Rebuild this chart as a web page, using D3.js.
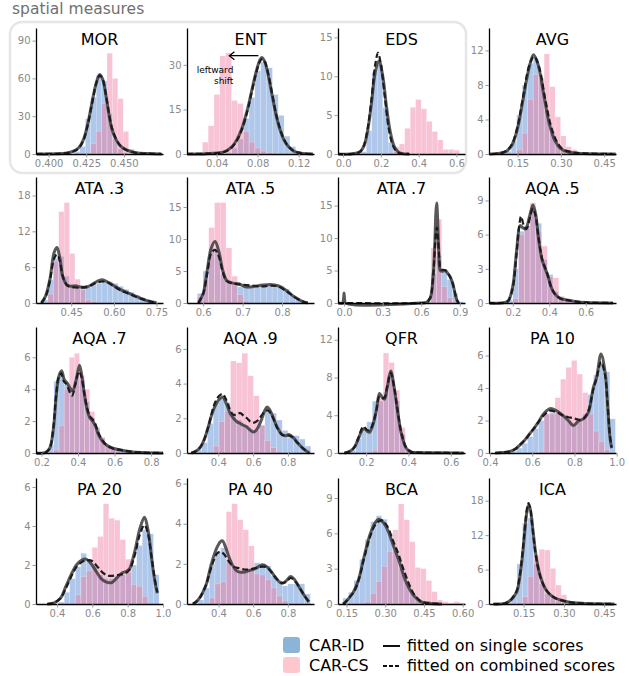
<!DOCTYPE html>
<html>
<head>
<meta charset="utf-8">
<script src="https://cdn.jsdelivr.net/npm/d3@7"></script>
<style>
  body { margin: 0; background: #fff; font-family: "DejaVu Sans", sans-serif; }
</style>
</head>
<body>
<svg width="629" height="676"></svg>
<script>
// ---- data ----
const titles = ["MOR", "ENT", "EDS", "AVG", "ATA .3", "ATA .5", "ATA .7", "AQA .5",
                "AQA .7", "AQA .9", "QFR", "PA 10", "PA 20", "PA 40", "BCA", "ICA"];

const xDomains = [[0.3916, 0.476], [0.011, 0.135], [-0.027, 0.645], [0.051, 0.491],
                  [0.326, 0.773], [0.559, 0.881], [-0.047, 0.94], [0.069, 0.766],
                  [0.17, 0.865], [0.22, 0.95], [0.067, 0.667], [0.395, 0.997],
                  [0.281, 1.0], [0.218, 0.951], [0.117, 0.609], [0.021, 0.494]];

const xTickLabels = [["0.400", "0.425", "0.450"], ["0.04", "0.08", "0.12"], ["0.0", "0.2", "0.4", "0.6"], ["0.15", "0.30", "0.45"],
                     ["0.45", "0.60", "0.75"], ["0.6", "0.7", "0.8"], ["0.0", "0.3", "0.6", "0.9"], ["0.2", "0.4", "0.6"],
                     ["0.2", "0.4", "0.6", "0.8"], ["0.4", "0.6", "0.8"], ["0.2", "0.4", "0.6"], ["0.4", "0.6", "0.8", "1.0"],
                     ["0.4", "0.6", "0.8", "1.0"], ["0.4", "0.6", "0.8"], ["0.15", "0.30", "0.45", "0.60"], ["0.15", "0.30", "0.45"]];

const yMax = [100, 42.4, 16.2, 14.6, 21.1, 19.7, 19.4, 11.06, 7.9, 7.26, 13.35, 7.76, 6.46, 6.28, 10.7, 21.96];

const yTicks = [[0, 30, 60, 90], [0, 15, 30], [0, 5, 10, 15], [0, 4, 8, 12],
                [0, 6, 12, 18], [0, 5, 10, 15], [0, 5, 10, 15], [0, 3, 6, 9],
                [0, 2, 4, 6], [0, 2, 4, 6], [0, 4, 8, 12], [0, 2, 4, 6],
                [0, 2, 4, 6], [0, 2, 4, 6], [0, 3, 6, 9], [0, 6, 12, 18]];

// CAR-ID histograms (blue): first bin edge, bin width, densities
const blueStart = [0.4172, 0.0488, 0.094, 0.109, 0.349, 0.585, 0.633, 0.1685, 0.24, 0.272, 0.125, 0.5, 0.409, 0.282, 0.136, 0.084];
const blueWidth = [0.0036, 0.0057, 0.029, 0.019, 0.019, 0.0146, 0.042, 0.0315, 0.028, 0.033, 0.026, 0.026, 0.0316, 0.0324, 0.0215, 0.0206];
const blueCounts = [
  [2, 6, 28, 45, 62, 58, 32, 12, 4, 1],
  [0.5, 2, 5, 12, 19, 28, 31, 29, 20, 13, 6, 2.5, 1],
  [0.3, 3, 10.5, 11.5, 6, 1.5, 0.3],
  [0.3, 1.5, 4.5, 8, 10.5, 11, 8.5, 5, 2.5, 1, 0.4, 0.2],
  [0.5, 3.9, 7.5, 7.8, 4.5, 3, 2.6, 2.7, 2.6, 3, 3.3, 3.5, 3.6, 3.3, 2.8, 2.3, 1.8, 1.3, 0.9, 0.5, 0.2],
  [1.5, 5, 8.5, 8.3, 4.5, 3.3, 2.8, 2.5, 2.6, 2.7, 2.6, 2.8, 2.7, 2.8, 2.7, 2.2, 1.2, 0.5, 0.2],
  [0.2, 4.5, 7.2, 4.8, 3.6, 1.5, 0.2],
  [0.3, 3.0, 6.3, 6.8, 8.0, 7.0, 3.8, 2.5, 1.0, 0.5, 0.3, 0.15, 0.1],
  [0.5, 4.5, 4.9, 4.3, 4.0, 4.8, 4.6, 3.2, 2.2, 1.6, 0.9, 0.5, 0.3, 0.2, 0.1, 0.05],
  [0.2, 0.6, 1.7, 2.9, 3.2, 2.9, 2.2, 1.9, 1.6, 1.4, 1.3, 1.6, 2.4, 2.3, 1.9, 1.3, 0.9, 1.0, 0.8, 0.4],
  [0.3, 1.5, 2.5, 3.3, 5.5, 5.5, 6.5, 8, 5.5, 2, 0.4, 0.1],
  [0.1, 0.3, 0.6, 1.0, 1.5, 2.0, 2.4, 2.5, 2.5, 2.3, 2.0, 1.8, 1.9, 2.4, 3.6, 4.8, 5.6, 5.0, 2.1],
  [0.1, 0.6, 1.3, 1.9, 2.6, 2.3, 2.0, 1.5, 1.3, 1.3, 1.4, 1.5, 1.6, 2.0, 3.0, 3.8, 3.6, 1.5],
  [0.2, 0.8, 2.0, 2.6, 2.8, 2.2, 1.8, 1.6, 1.6, 1.7, 2.05, 2.0, 1.9, 1.4, 1.1, 0.9, 1.0, 1.0, 1.0, 0.5],
  [0.5, 1.0, 2.0, 3.8, 5.5, 7.0, 7.5, 7.2, 6.0, 4.5, 3.0, 1.8, 0.9, 0.4, 0.2],
  [0.3, 1.5, 7, 14.1, 15, 7, 3.5, 1.8, 1.0, 0.5, 0.3]
];

// CAR-CS histograms (pink)
const pinkStart = [0.428, 0.026, 0.268, 0.147, 0.368, 0.585, 0.633, 0.2, 0.268, 0.371, 0.229, 0.63, 0.5038, 0.3468, 0.222, 0.1252];
const pinkWidth = [0.0036, 0.0057, 0.029, 0.019, 0.019, 0.0146, 0.042, 0.0315, 0.028, 0.033, 0.026, 0.026, 0.0316, 0.0324, 0.0215, 0.0206];
const pinkCounts = [
  [8, 18, 40, 80, 60, 44, 18, 4],
  [4, 9.5, 20, 33, 34, 18, 17, 7.5, 4, 2, 1, 0.5],
  [0.9, 1.3, 3.3, 6.0, 7.0, 5.8, 4.2, 2.9, 1.8, 0.6, 0.6, 0.5],
  [0.5, 2.4, 6.3, 9.2, 8.8, 11.6, 7.8, 4.3, 2.1, 0.85, 0.5],
  [1.5, 7.0, 15.3, 16.8, 8.3, 4.0, 2.2, 0.5, 0.3],
  [1.0, 3.7, 11.8, 15.7, 15.7, 8.6, 4.2, 1.3, 0.3],
  [0.3, 8.5, 12.9, 2.5, 0.8, 0.3],
  [0.4, 6.0, 6.6, 8.8, 6.3, 5.0, 2.3, 2.2, 0.6, 0.4, 0.1],
  [0.2, 1.7, 4.0, 6.0, 6.25, 4.85, 4.0, 2.6, 1.5, 1.0, 0.5, 0.3, 0.15],
  [0.4, 1.8, 2.4, 5.3, 5.2, 5.75, 4.45, 3.3, 1.6, 0.7, 0.3, 0.1],
  [0.3, 6.0, 10.6, 9.6, 6.66, 2.7, 0.4, 0.2, 0.1],
  [0.1, 2.4, 2.4, 3.4, 4.55, 5.27, 5.7, 4.86, 3.72, 2.4, 1.35, 0.7, 0.2],
  [0.46, 1.4, 1.7, 2.9, 3.46, 5.14, 4.4, 4.3, 3.3, 2.3, 1.0, 0.9, 0.4],
  [0.3, 1.0, 1.1, 4.6, 5.0, 4.2, 3.7, 2.9, 1.5, 1.45, 1.2, 0.8, 0.4, 0.15],
  [0.2, 0.9, 1.9, 3.2, 4.45, 6.3, 8.5, 7.15, 5.3, 3.1, 3.0, 2.0, 1.05, 0.34, 0.2, 0.1, 0.2, 0.1],
  [0.3, 1.3, 4.8, 8.5, 9.55, 9.4, 6.2, 3.3, 1.6, 0.4, 0.2]
];

// fitted densities, read as [x, density] points
const fitSingle = [
  [[0.392,0],[0.405,0.2],[0.412,0.8],[0.416,2],[0.42,5],[0.423,11],[0.426,24],[0.429,42],[0.432,58],[0.434,63],[0.436,59],[0.438,47],[0.44,32],[0.442,20],[0.445,11],[0.448,6],[0.452,3],[0.458,1],[0.466,0.3],[0.475,0]],
  [[0.011,0],[0.03,0.1],[0.045,0.5],[0.05,1.2],[0.055,2.5],[0.06,5],[0.065,9],[0.07,15],[0.074,21],[0.078,27],[0.082,31.5],[0.084,32.5],[0.087,31],[0.09,27],[0.094,20],[0.098,13],[0.102,8],[0.106,4.5],[0.11,2.5],[0.115,1],[0.122,0.3],[0.134,0]],
  [[-0.027,0],[0.05,0.02],[0.09,0.3],[0.11,1],[0.13,3],[0.15,6.5],[0.17,10.5],[0.19,12],[0.21,10],[0.23,6],[0.25,2.8],[0.27,1],[0.29,0.3],[0.31,0.05],[0.35,0]],
  [[0.051,0],[0.09,0.1],[0.11,0.3],[0.13,1],[0.15,3],[0.17,6.5],[0.19,10],[0.205,11.5],[0.22,10.5],[0.24,7],[0.26,3.5],[0.28,1.5],[0.3,0.6],[0.33,0.2],[0.38,0.05],[0.49,0]],
  [[0.345,0],[0.36,1.2],[0.375,4],[0.39,8.5],[0.4,9.3],[0.41,7.5],[0.42,4.5],[0.435,3],[0.45,2.8],[0.465,2.9],[0.48,2.7],[0.5,2.6],[0.52,3],[0.54,3.6],[0.557,3.9],[0.575,3.6],[0.6,2.9],[0.625,2.2],[0.65,1.7],[0.675,1.2],[0.7,0.7],[0.725,0.3],[0.75,0.05]],
  [[0.588,0],[0.6,1.5],[0.61,5],[0.62,8.5],[0.63,9.6],[0.64,8],[0.65,5],[0.66,3.5],[0.675,3.1],[0.69,3.0],[0.71,2.5],[0.73,2.6],[0.75,2.8],[0.77,2.9],[0.79,2.7],[0.81,2.0],[0.83,1.0],[0.85,0.3],[0.865,0]],
  [[-0.045,0],[-0.012,0],[-0.004,0.6],[0,1.55],[0.004,0.6],[0.012,0],[0.6,0],[0.64,0.1],[0.67,0.8],[0.69,3.5],[0.705,9],[0.714,14],[0.72,15.4],[0.727,13],[0.736,8],[0.748,5],[0.765,4.9],[0.785,5],[0.805,4.6],[0.825,4],[0.845,3],[0.862,1.5],[0.876,0.5],[0.89,0]],
  [[0.069,0],[0.15,0.02],[0.175,0.2],[0.2,1.5],[0.22,4.5],[0.24,6.8],[0.255,6.6],[0.27,6.5],[0.29,7.5],[0.31,8.6],[0.325,7.8],[0.34,5.8],[0.36,3.8],[0.375,3.1],[0.39,2.5],[0.41,1.4],[0.43,0.8],[0.46,0.4],[0.5,0.25],[0.55,0.12],[0.6,0.05],[0.65,0.02],[0.75,0]],
  [[0.17,0],[0.22,0.02],[0.245,0.3],[0.265,1.5],[0.28,3.5],[0.295,4.8],[0.31,5.15],[0.325,4.6],[0.34,4.4],[0.355,4.1],[0.37,3.9],[0.39,4.6],[0.408,5.5],[0.42,4.9],[0.435,3.7],[0.45,2.7],[0.465,2.2],[0.48,2.0],[0.495,1.7],[0.51,1.2],[0.53,0.8],[0.555,0.5],[0.59,0.3],[0.63,0.2],[0.68,0.1],[0.75,0.03],[0.865,0]],
  [[0.245,0],[0.27,0.1],[0.294,0.3],[0.32,0.8],[0.342,1.5],[0.362,2.2],[0.381,2.7],[0.405,3.1],[0.425,3.23],[0.448,2.8],[0.467,2.3],[0.487,2.0],[0.507,1.8],[0.526,1.7],[0.545,1.6],[0.565,1.5],[0.58,1.35],[0.597,1.22],[0.612,1.25],[0.63,1.5],[0.651,2.0],[0.667,2.45],[0.68,2.65],[0.695,2.5],[0.709,2.2],[0.738,1.5],[0.767,1.05],[0.787,1.0],[0.806,1.06],[0.83,0.9],[0.854,0.6],[0.883,0.3],[0.922,0]],
  [[0.097,0],[0.12,0.15],[0.144,0.6],[0.165,1.6],[0.18,2.4],[0.192,2.6],[0.205,2.3],[0.216,2.2],[0.232,3.0],[0.248,4.5],[0.263,6.3],[0.276,5.9],[0.287,5.7],[0.3,7.0],[0.316,8.7],[0.332,7.0],[0.348,4.5],[0.367,2.0],[0.39,0.5],[0.414,0.1],[0.446,0.05],[0.573,0.02],[0.66,0]],
  [[0.424,0],[0.46,0.03],[0.495,0.1],[0.52,0.25],[0.542,0.5],[0.565,0.8],[0.589,1.2],[0.61,1.55],[0.629,1.9],[0.653,2.4],[0.684,2.73],[0.716,2.6],[0.747,2.3],[0.771,2.0],[0.795,1.7],[0.818,1.95],[0.842,2.1],[0.866,2.5],[0.889,4.0],[0.905,4.65],[0.926,6.1],[0.945,5.0],[0.957,3.0],[0.968,1.0],[0.976,0.3]],
  [[0.345,0],[0.38,0.05],[0.42,0.3],[0.45,0.9],[0.48,1.5],[0.51,2.0],[0.54,2.25],[0.565,2.3],[0.59,2.1],[0.62,1.7],[0.65,1.3],[0.68,1.12],[0.71,1.1],[0.74,1.35],[0.77,1.6],[0.79,1.66],[0.81,1.8],[0.84,2.7],[0.87,3.9],[0.895,4.45],[0.915,3.8],[0.935,2.4],[0.955,1.1],[0.968,0.55]],
  [[0.252,0],[0.27,0.1],[0.291,0.3],[0.31,0.6],[0.33,1.0],[0.35,1.7],[0.369,2.3],[0.39,2.8],[0.41,3.1],[0.423,3.15],[0.44,2.85],[0.46,2.35],[0.48,1.95],[0.505,1.65],[0.53,1.58],[0.56,1.62],[0.59,1.7],[0.62,1.8],[0.65,1.95],[0.68,1.85],[0.71,1.55],[0.74,1.2],[0.767,1.03],[0.79,1.15],[0.816,1.37],[0.84,1.2],[0.865,0.85],[0.893,0.45],[0.922,0.1]],
  [[0.137,0],[0.15,0.25],[0.163,0.6],[0.176,1.0],[0.189,1.6],[0.202,2.5],[0.215,3.75],[0.228,4.9],[0.241,5.9],[0.258,6.8],[0.274,7.2],[0.287,7.05],[0.3,6.7],[0.313,6.1],[0.326,5.3],[0.339,4.5],[0.352,3.75],[0.365,2.85],[0.378,2.0],[0.391,1.4],[0.404,0.9],[0.42,0.5],[0.437,0.2],[0.455,0.1],[0.476,0.05],[0.52,0]],
  [[0.0375,0],[0.08,0.1],[0.1,0.6],[0.112,1.2],[0.125,2.2],[0.135,4.5],[0.144,7.7],[0.15,10.5],[0.156,13.5],[0.162,16],[0.169,17.3],[0.175,16.5],[0.181,14.4],[0.188,11.5],[0.194,9.1],[0.203,6.6],[0.2125,4.8],[0.225,3.2],[0.2375,2.2],[0.255,1.4],[0.269,1.0],[0.29,0.65],[0.3125,0.4],[0.34,0.2],[0.375,0.1],[0.43,0.03],[0.4875,0]]
];

const fitCombined = [
  [[0.392,0],[0.405,0.2],[0.412,0.7],[0.416,1.8],[0.42,4.6],[0.423,10.5],[0.426,23],[0.429,41],[0.432,57.5],[0.434,62.5],[0.436,59],[0.438,47.5],[0.44,33],[0.442,21],[0.445,11.5],[0.448,6.2],[0.452,3],[0.458,1],[0.466,0.3],[0.475,0]],
  [[0.011,0],[0.03,0.1],[0.045,0.5],[0.05,1.1],[0.055,2.3],[0.06,4.7],[0.065,8.6],[0.07,14.5],[0.074,20.5],[0.078,26.5],[0.082,31],[0.0845,32],[0.087,31],[0.09,27.5],[0.094,20.5],[0.098,13.5],[0.102,8.3],[0.106,4.7],[0.11,2.6],[0.115,1.1],[0.122,0.3],[0.134,0]],
  [[-0.02,0],[0.05,0.02],[0.09,0.3],[0.11,1.1],[0.13,3.3],[0.15,7],[0.17,11.5],[0.185,13],[0.2,11.5],[0.22,7.5],[0.24,3.5],[0.26,1.3],[0.28,0.4],[0.3,0.1],[0.35,0]],
  [[0.06,0],[0.09,0.1],[0.11,0.35],[0.13,1.1],[0.15,3.2],[0.17,6.8],[0.19,10.2],[0.207,11.3],[0.225,10],[0.245,6.5],[0.265,3.3],[0.285,1.5],[0.305,0.6],[0.34,0.2],[0.4,0.05],[0.48,0]],
  [[0.345,0],[0.36,1.1],[0.375,3.8],[0.39,7.5],[0.4,8.1],[0.41,7],[0.42,4.5],[0.435,3],[0.45,2.7],[0.465,2.6],[0.48,2.6],[0.5,2.7],[0.52,3],[0.54,3.4],[0.56,3.6],[0.58,3.4],[0.6,2.8],[0.625,2.1],[0.65,1.6],[0.675,1.1],[0.7,0.65],[0.725,0.3],[0.75,0.05]],
  [[0.588,0],[0.6,1.4],[0.61,4.5],[0.62,7.7],[0.63,8.3],[0.64,7.2],[0.65,4.8],[0.66,3.4],[0.675,3.1],[0.69,2.9],[0.71,2.8],[0.73,2.7],[0.75,2.6],[0.77,2.7],[0.79,2.6],[0.81,1.9],[0.83,1.0],[0.85,0.3],[0.865,0]],
  [[-0.045,0],[0.6,0],[0.64,0.1],[0.67,0.8],[0.69,3.5],[0.705,8],[0.715,11],[0.722,11.6],[0.73,10],[0.74,7],[0.752,5.2],[0.77,5.1],[0.79,5],[0.81,4.5],[0.83,3.8],[0.85,2.6],[0.865,1.3],[0.878,0.4],[0.89,0]],
  [[0.069,0],[0.15,0.02],[0.175,0.2],[0.2,1.4],[0.22,4.3],[0.235,6.8],[0.245,7.6],[0.26,6.8],[0.275,6.5],[0.295,7.6],[0.31,8.3],[0.325,7.6],[0.34,5.8],[0.36,3.9],[0.375,3.2],[0.39,2.5],[0.41,1.4],[0.43,0.8],[0.46,0.4],[0.5,0.25],[0.55,0.12],[0.6,0.05],[0.65,0.02],[0.75,0]],
  [[0.17,0],[0.22,0.02],[0.245,0.3],[0.265,1.6],[0.28,3.6],[0.295,4.8],[0.308,5.0],[0.322,4.5],[0.338,4.3],[0.355,3.8],[0.368,3.6],[0.385,4.3],[0.405,5.1],[0.418,4.8],[0.435,3.7],[0.45,2.8],[0.465,2.3],[0.48,2.1],[0.495,1.8],[0.51,1.3],[0.53,0.85],[0.555,0.5],[0.59,0.3],[0.63,0.2],[0.68,0.1],[0.75,0.03],[0.865,0]],
  [[0.245,0],[0.27,0.1],[0.294,0.3],[0.32,0.8],[0.342,1.5],[0.362,2.3],[0.381,2.9],[0.405,3.3],[0.425,3.4],[0.448,3.0],[0.467,2.5],[0.487,2.2],[0.507,2.25],[0.526,2.3],[0.545,2.15],[0.565,2.0],[0.585,1.8],[0.605,1.75],[0.63,1.9],[0.651,2.2],[0.668,2.4],[0.685,2.45],[0.7,2.3],[0.72,1.9],[0.738,1.45],[0.767,1.05],[0.787,1.0],[0.806,1.0],[0.83,0.88],[0.854,0.6],[0.883,0.3],[0.922,0]],
  [[0.097,0],[0.12,0.15],[0.144,0.6],[0.165,1.7],[0.18,2.6],[0.19,2.8],[0.2,2.5],[0.216,2.4],[0.232,3.1],[0.248,4.5],[0.263,6.0],[0.276,5.8],[0.287,5.9],[0.3,7.1],[0.316,8.5],[0.332,7.0],[0.348,4.6],[0.367,2.1],[0.39,0.55],[0.414,0.12],[0.446,0.05],[0.573,0.02],[0.66,0]],
  [[0.424,0],[0.46,0.03],[0.495,0.1],[0.52,0.25],[0.542,0.5],[0.565,0.8],[0.589,1.2],[0.61,1.55],[0.629,1.9],[0.653,2.3],[0.684,2.6],[0.716,2.5],[0.747,2.3],[0.771,2.2],[0.795,2.15],[0.818,2.05],[0.842,2.1],[0.866,2.6],[0.889,3.9],[0.905,4.6],[0.926,5.6],[0.945,4.8],[0.957,3.0],[0.968,1.1],[0.976,0.35]],
  [[0.345,0],[0.38,0.05],[0.42,0.3],[0.45,0.8],[0.48,1.4],[0.51,1.9],[0.54,2.15],[0.57,2.25],[0.6,2.2],[0.63,1.9],[0.66,1.6],[0.69,1.45],[0.72,1.45],[0.75,1.5],[0.78,1.55],[0.81,1.75],[0.84,2.5],[0.87,3.6],[0.895,4.05],[0.915,3.6],[0.935,2.4],[0.955,1.2],[0.968,0.6]],
  [[0.252,0],[0.27,0.1],[0.291,0.3],[0.31,0.6],[0.33,1.0],[0.35,1.6],[0.369,2.1],[0.39,2.5],[0.41,2.6],[0.43,2.5],[0.45,2.25],[0.47,2.0],[0.49,1.85],[0.52,1.78],[0.55,1.72],[0.58,1.72],[0.61,1.78],[0.64,1.85],[0.67,1.85],[0.7,1.65],[0.73,1.3],[0.767,1.05],[0.79,1.1],[0.816,1.3],[0.84,1.15],[0.865,0.85],[0.893,0.45],[0.922,0.1]],
  [[0.137,0],[0.15,0.25],[0.163,0.6],[0.176,0.95],[0.189,1.5],[0.202,2.4],[0.215,3.6],[0.228,4.7],[0.241,5.7],[0.258,6.6],[0.274,7.0],[0.287,7.1],[0.3,6.85],[0.313,6.4],[0.326,5.6],[0.339,4.9],[0.352,4.2],[0.365,3.3],[0.378,2.5],[0.391,1.75],[0.404,1.1],[0.42,0.6],[0.437,0.25],[0.455,0.1],[0.476,0.05],[0.52,0]],
  [[0.0375,0],[0.08,0.1],[0.1,0.6],[0.112,1.3],[0.125,2.4],[0.135,4.8],[0.144,8.2],[0.15,11],[0.156,14],[0.162,16.5],[0.168,17.6],[0.175,16.6],[0.181,14.2],[0.188,11.2],[0.194,8.9],[0.203,6.5],[0.2125,4.7],[0.225,3.2],[0.2375,2.2],[0.255,1.4],[0.269,1.0],[0.29,0.65],[0.3125,0.4],[0.34,0.2],[0.375,0.1],[0.43,0.03],[0.4875,0]]
];

// ENT annotation (data units of the ENT panel)
const arrowFrom = [0.0807, 33.1], arrowTo = [0.0524, 33.1];
const noteLines = ["leftward", "shift"], noteAt = [0.0563, 27.3, 23.6];

// ---- layout ----
const colLeft = [36, 187, 338, 489];
const rowBase = [154, 303, 453, 604];
const plotW = 127, plotH = 126;
const blueFill = "#5d8fd6", pinkFill = "#f07aa0";

var svg = d3.select("svg");

svg.append("text")
   .attr("x", 12).attr("y", 14)
   .style("font-size", "15.5px").style("fill", "#707070")
   .text("spatial measures");

svg.append("rect")
   .attr("x", 10).attr("y", 22).attr("width", 456).attr("height", 151)
   .attr("rx", 12).attr("ry", 12)
   .style("fill", "none").style("stroke", "#e6e6e6").style("stroke-width", 2.5);

function drawHist(g, x, y, start, width, counts, fill, alpha) {
    g.append("g")
     .selectAll("rect")
     .data(counts)
     .enter()
     .append("rect")
     .attr("x", (d, k) => x(start + k * width))
     .attr("width", (d, k) => x(start + (k + 1) * width) - x(start + k * width))
     .attr("y", d => y(d))
     .attr("height", d => y(0) - y(d))
     .style("fill", fill)
     .style("fill-opacity", alpha)
     .style("stroke", "#fff").style("stroke-width", 0.4).style("stroke-opacity", 0.5);
}

titles.forEach(function(title, i) {
    var col = i % 4, row = Math.floor(i / 4);
    var g = svg.append("g")
               .attr("transform", "translate(" + colLeft[col] + "," + (rowBase[row] - plotH) + ")");

    var x = d3.scaleLinear().domain(xDomains[i]).range([0, plotW]);
    var y = d3.scaleLinear().domain([0, yMax[i]]).range([plotH, 0]);

    drawHist(g, x, y, blueStart[i], blueWidth[i], blueCounts[i], blueFill, 0.5);
    drawHist(g, x, y, pinkStart[i], pinkWidth[i], pinkCounts[i], pinkFill, 0.45);

    var line = d3.line()
                 .x(d => x(d[0]))
                 .y(d => y(d[1]))
                 .curve(d3.curveCatmullRom.alpha(0.5));

    g.append("path").datum(fitSingle[i])
     .attr("d", line)
     .style("fill", "none").style("stroke", "#3c3c3c").style("stroke-opacity", 0.85)
     .style("stroke-width", 3).style("stroke-linejoin", "round");
    g.append("path").datum(fitCombined[i])
     .attr("d", line)
     .style("fill", "none").style("stroke", "#1c1c1c")
     .style("stroke-width", 2.2).style("stroke-dasharray", "6,3");

    // axes
    var labels = xTickLabels[i];
    var xAxis = g.append("g")
                 .attr("transform", "translate(0," + plotH + ")")
                 .call(d3.axisBottom(x).tickValues(labels.map(Number))
                         .tickFormat((d, k) => labels[k]).tickSize(3.5).tickSizeOuter(0).tickPadding(2));
    var yAxis = g.append("g")
                 .call(d3.axisLeft(y).tickValues(yTicks[i]).tickFormat(d => String(d))
                         .tickSize(3.5).tickSizeOuter(0).tickPadding(2));

    [xAxis, yAxis].forEach(function(a) {
        a.select(".domain").style("stroke", "#000").style("stroke-width", 1.3);
        a.selectAll(".tick line").style("stroke", "#999");
        a.selectAll(".tick text").style("fill", "#8a8a8a")
         .style("font-size", "10px").style("font-family", "DejaVu Sans, sans-serif");
    });

    g.append("text")
     .attr("x", plotW / 2).attr("y", 17)
     .style("text-anchor", "middle").style("font-size", "16px").style("fill", "#000")
     .text(title);

    if (title == "ENT") {
        var ax = x(arrowTo[0]), ay = y(arrowTo[1]);
        g.append("line")
         .attr("x1", x(arrowFrom[0])).attr("y1", y(arrowFrom[1]))
         .attr("x2", ax).attr("y2", ay)
         .style("stroke", "#000").style("stroke-width", 1.3);
        g.append("path")
         .attr("d", "M" + (ax + 5) + "," + (ay - 4) + "L" + ax + "," + ay + "L" + (ax + 5) + "," + (ay + 4))
         .style("fill", "none").style("stroke", "#000").style("stroke-width", 1.3);
        noteLines.forEach(function(t, k) {
            g.append("text")
             .attr("x", x(noteAt[0])).attr("y", y(noteAt[k + 1]))
             .style("text-anchor", "end").style("font-size", "9px").style("fill", "#000")
             .text(t);
        });
    }
});

// legend
var legend = svg.append("g");
legend.append("rect").attr("x", 283).attr("y", 637).attr("width", 17).attr("height", 16)
      .attr("rx", 3).style("fill", "#8cb4d8");
legend.append("rect").attr("x", 283).attr("y", 657).attr("width", 17).attr("height", 16)
      .attr("rx", 3).style("fill", "#ffc7cd");
legend.append("text").attr("x", 309).attr("y", 651).style("font-size", "16px").text("CAR-ID");
legend.append("text").attr("x", 309).attr("y", 671).style("font-size", "16px").text("CAR-CS");
legend.append("line").attr("x1", 383).attr("x2", 400).attr("y1", 646).attr("y2", 646)
      .style("stroke", "#111").style("stroke-width", 2);
legend.append("line").attr("x1", 383).attr("x2", 400).attr("y1", 666).attr("y2", 666)
      .style("stroke", "#111").style("stroke-width", 2).style("stroke-dasharray", "4,2");
legend.append("text").attr("x", 407).attr("y", 651).style("font-size", "16px").text("fitted on single scores");
legend.append("text").attr("x", 407).attr("y", 671).style("font-size", "16px").text("fitted on combined scores");
</script>
</body>
</html>
